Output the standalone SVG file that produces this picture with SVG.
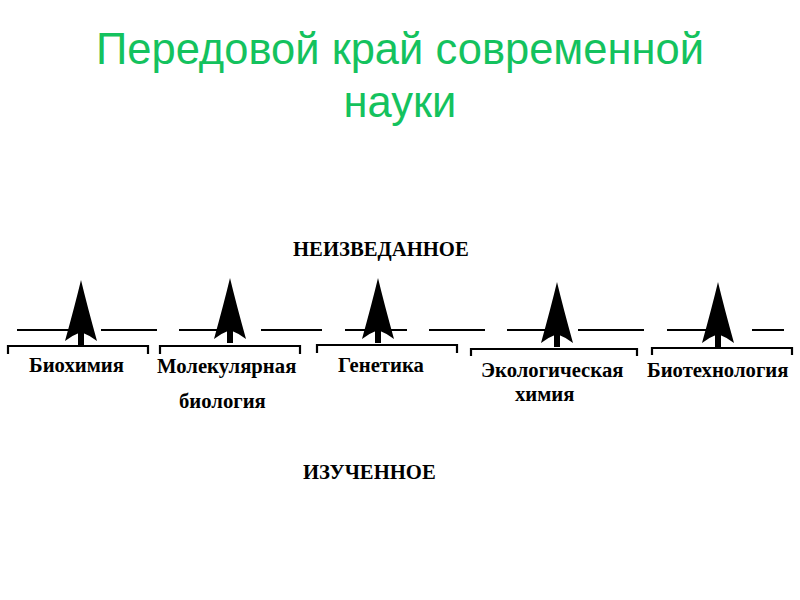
<svg xmlns="http://www.w3.org/2000/svg" width="800" height="600" viewBox="0 0 800 600">
<style>
.title{font-family:"Liberation Sans",Arial,sans-serif;font-size:43.5px;fill:#14C25E}
.lbl{font-family:"Liberation Serif","Times New Roman",serif;font-weight:bold;font-size:20.7px;fill:#000}
.ln{stroke:#000;stroke-width:2;fill:none}
.br{stroke:#000;stroke-width:2.2;fill:none}
.ah{fill:#000}
</style>
<defs>
<g id="arrow">
<rect x="-3" y="45" width="6" height="20" fill="#000"/>
<path class="ah" d="M0,0 Q-6,25 -16,61 Q-8,55 0,52 Q8,55 16,61 Q6,25 0,0 Z"/>
</g>
</defs>
<rect width="800" height="600" fill="#fff"/>
<text class="title" x="400" y="64" text-anchor="middle">Передовой край современной</text>
<text class="title" x="400" y="117" text-anchor="middle">науки</text>
<text class="lbl" x="293" y="256">НЕИЗВЕДАННОЕ</text>
<text class="lbl" x="303" y="479">ИЗУЧЕННОЕ</text>
<g id="connectors">
<line class="ln" x1="17" y1="330" x2="75" y2="330"/>
<line class="ln" x1="101" y1="330" x2="157" y2="330"/>
<line class="ln" x1="179" y1="330" x2="225" y2="330"/>
<line class="ln" x1="261" y1="330" x2="322" y2="330"/>
<line class="ln" x1="345" y1="330" x2="407" y2="330"/>
<line class="ln" x1="429" y1="330" x2="485" y2="330"/>
<line class="ln" x1="507" y1="330" x2="552" y2="330"/>
<line class="ln" x1="578" y1="330" x2="644" y2="330"/>
<line class="ln" x1="667" y1="330" x2="713" y2="330"/>
<line class="ln" x1="752" y1="330" x2="784" y2="330"/>
<use href="#arrow" x="81" y="280"/>
<use href="#arrow" x="230" y="278"/>
<use href="#arrow" x="378" y="278"/>
<use href="#arrow" x="557" y="282"/>
<use href="#arrow" x="718" y="282"/>
</g>
<g id="n1">
<path class="br" d="M8,354 V346 H148 V354"/>
<text class="lbl" x="29" y="372">Биохимия</text>
</g>
<g id="n2">
<path class="br" d="M160,354 V346 H300 V354"/>
<text class="lbl" x="157" y="373">Молекулярная</text>
<text class="lbl" x="179" y="408">биология</text>
</g>
<g id="n3">
<path class="br" d="M317,353 V345 H457 V353"/>
<text class="lbl" x="338" y="372">Генетика</text>
</g>
<g id="n4">
<path class="br" d="M471,356 V349 H637 V356"/>
<text class="lbl" x="481" y="377">Экологическая</text>
<text class="lbl" x="515" y="401">химия</text>
</g>
<g id="n5">
<path class="br" d="M652,355 V348 H792 V355"/>
<text class="lbl" x="647" y="377">Биотехнология</text>
</g>
</svg>
